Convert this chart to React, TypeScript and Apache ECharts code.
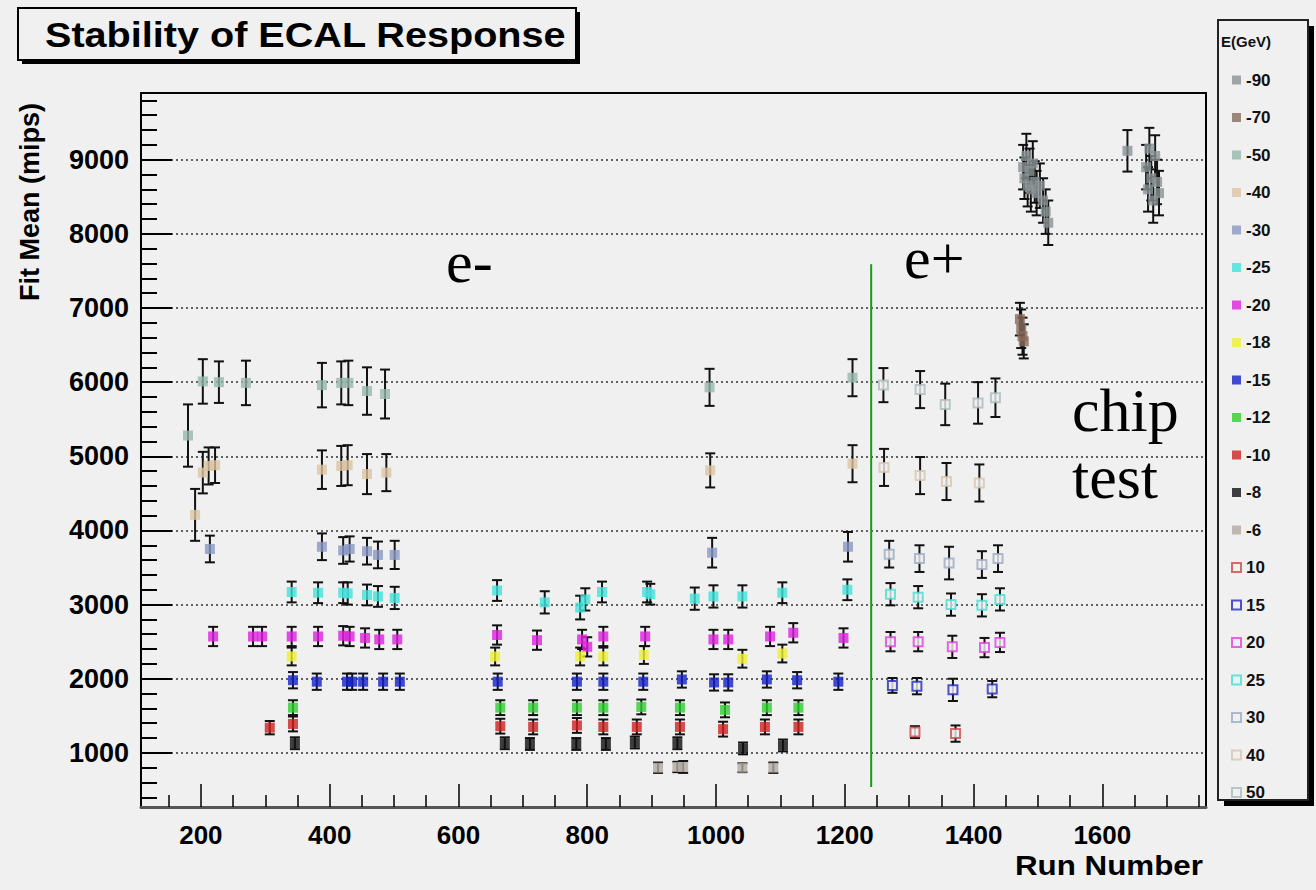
import React, { useEffect, useRef } from "react";
import * as echarts from "echarts";

// [run, fit mean, error]
const eM90 = [
  [1477, 8900, 300], [1479, 8750, 280], [1482, 9050, 300], [1484, 8650, 280], [1487, 8850, 300],
  [1489, 8600, 300], [1492, 8950, 300], [1495, 8700, 280], [1498, 8550, 300], [1503, 8650, 300],
  [1508, 8450, 300], [1512, 8300, 300], [1516, 8150, 300],
  [1639, 9120, 280], [1668, 8900, 300], [1671, 8600, 300], [1673, 9150, 280], [1676, 8750, 300],
  [1679, 8450, 300], [1682, 9050, 280], [1685, 8700, 300], [1688, 8550, 300],
];
const eM70 = [[1472, 6850, 220], [1474, 6720, 260], [1476, 6620, 250], [1478, 6550, 230]];
const eM50 = [
  [180, 5280, 420], [203, 6010, 300], [228, 6000, 280], [270, 5990, 300], [388, 5960, 300],
  [418, 5990, 290], [429, 5990, 300], [458, 5880, 320], [486, 5840, 330], [990, 5930, 250], [1212, 6060, 250],
];
const eM40 = [
  [191, 4210, 350], [203, 4780, 280], [212, 4870, 250], [222, 4880, 240], [388, 4820, 260],
  [418, 4870, 270], [428, 4880, 270], [458, 4760, 270], [488, 4780, 250], [991, 4810, 230], [1212, 4900, 250],
];
const eM30 = [
  [214, 3750, 180], [388, 3780, 180], [421, 3730, 180], [431, 3750, 170], [458, 3720, 180],
  [475, 3670, 180], [501, 3670, 190], [994, 3700, 200], [1205, 3780, 200],
];
const eM25 = [
  [341, 3170, 140], [382, 3160, 140], [421, 3160, 140], [428, 3150, 150], [458, 3130, 140],
  [475, 3110, 140], [501, 3090, 150], [660, 3190, 140], [734, 3030, 150], [789, 2960, 160],
  [797, 3070, 150], [823, 3170, 140], [893, 3170, 140], [898, 3140, 140], [967, 3080, 150],
  [996, 3110, 150], [1041, 3110, 150], [1103, 3160, 140], [1204, 3200, 140],
];
const eM20 = [
  [219, 2570, 130], [281, 2570, 130], [295, 2570, 130], [341, 2570, 130], [382, 2570, 130],
  [421, 2580, 130], [431, 2570, 130], [455, 2550, 130], [477, 2530, 130], [505, 2530, 130],
  [660, 2590, 130], [722, 2520, 130], [792, 2530, 130], [800, 2430, 130], [825, 2570, 130],
  [890, 2570, 130], [996, 2530, 130], [1019, 2530, 130], [1084, 2570, 130], [1120, 2620, 130], [1198, 2550, 130],
];
const eM18 = [[341, 2300, 120], [657, 2300, 120], [789, 2300, 120], [825, 2300, 120], [888, 2320, 120], [1041, 2270, 120], [1103, 2340, 120]];
const eM15 = [
  [343, 1980, 110], [380, 1960, 110], [427, 1960, 110], [435, 1960, 110], [452, 1960, 110],
  [483, 1960, 110], [509, 1960, 110], [661, 1960, 110], [784, 1960, 110], [825, 1960, 110],
  [887, 1960, 110], [947, 1990, 110], [997, 1950, 110], [1019, 1950, 110], [1079, 1990, 110],
  [1126, 1980, 110], [1190, 1960, 110],
];
const eM12 = [[343, 1610, 100], [665, 1610, 100], [716, 1610, 100], [784, 1610, 100], [825, 1610, 100], [884, 1620, 100], [944, 1610, 100], [1014, 1580, 100], [1079, 1610, 100], [1128, 1610, 100]];
const eM10 = [[307, 1340, 90], [343, 1390, 100], [665, 1360, 100], [716, 1350, 100], [784, 1370, 100], [825, 1350, 100], [877, 1350, 100], [944, 1350, 100], [1011, 1320, 100], [1076, 1350, 100], [1128, 1350, 100]];
const eM8 = [[346, 1130, 80], [672, 1130, 80], [711, 1120, 80], [783, 1120, 80], [829, 1120, 80], [874, 1140, 80], [940, 1130, 80], [1042, 1060, 80], [1104, 1100, 80]];
const eM6 = [[910, 800, 70], [940, 810, 70], [949, 810, 80], [1041, 800, 60], [1089, 800, 70]];
const eP10 = [[1309, 1280, 80], [1372, 1260, 110]];
const eP15 = [[1274, 1910, 100], [1312, 1900, 110], [1368, 1850, 150], [1429, 1860, 110]];
const eP20 = [[1271, 2500, 130], [1314, 2500, 130], [1367, 2430, 150], [1417, 2420, 130], [1441, 2490, 130]];
const eP25 = [[1271, 3140, 150], [1314, 3100, 150], [1365, 3000, 150], [1413, 2990, 150], [1441, 3070, 150]];
const eP30 = [[1269, 3680, 180], [1316, 3620, 180], [1362, 3560, 220], [1413, 3540, 180], [1438, 3620, 180]];
const eP40 = [[1261, 4850, 250], [1317, 4740, 250], [1358, 4660, 250], [1409, 4640, 250]];
const eP50 = [[1260, 5960, 230], [1317, 5900, 250], [1356, 5700, 280], [1407, 5720, 280], [1434, 5790, 260]];

const ePlusLine = [[1241, 7590], [1241, 540]];

const yTickLabels = [1000, 2000, 3000, 4000, 5000, 6000, 7000, 8000, 9000];
const xTickLabels = [200, 400, 600, 800, 1000, 1200, 1400, 1600];

const seriesDefs = [
  { name: "-90", data: eM90, color: "#8a9294", hollow: false },
  { name: "-70", data: eM70, color: "#8a6a5c", hollow: false },
  { name: "-50", data: eM50, color: "#96b8ac", hollow: false },
  { name: "-40", data: eM40, color: "#dcc4a2", hollow: false },
  { name: "-30", data: eM30, color: "#8898c6", hollow: false },
  { name: "-25", data: eM25, color: "#40e4dc", hollow: false },
  { name: "-20", data: eM20, color: "#e020e0", hollow: false },
  { name: "-18", data: eM18, color: "#eef030", hollow: false },
  { name: "-15", data: eM15, color: "#1420c8", hollow: false },
  { name: "-12", data: eM12, color: "#30d030", hollow: false },
  { name: "-10", data: eM10, color: "#d02020", hollow: false },
  { name: "-8", data: eM8, color: "#101010", hollow: false },
  { name: "-6", data: eM6, color: "#b2aaa4", hollow: false },
  { name: "10", data: eP10, color: "#d04848", hollow: true },
  { name: "15", data: eP15, color: "#2428c4", hollow: true },
  { name: "20", data: eP20, color: "#e040e0", hollow: true },
  { name: "25", data: eP25, color: "#40e0d4", hollow: true },
  { name: "30", data: eP30, color: "#9aaac4", hollow: true },
  { name: "40", data: eP40, color: "#d8c6ac", hollow: true },
  { name: "50", data: eP50, color: "#aabcbc", hollow: true },
];

const X_MIN = 107;
const X_MAX = 1761;
const Y_MIN = 270;
const Y_MAX = 9900;
const BG = "#f0f0f0";
const FONT = "'Liberation Sans', Arial, sans-serif";
const SERIF = "'Liberation Serif', 'Times New Roman', serif";

const xMinor: number[] = [];
for (let v = 150; v <= 1750; v += 50) if (v % 200 !== 0) xMinor.push(v);
const yMinor: number[] = [];
for (let v = 400; v <= 9800; v += 200) if (v % 1000 !== 0) yMinor.push(v);

export default function App() {
  const ref = useRef<HTMLDivElement>(null);
  useEffect(() => {
    const chart = echarts.init(ref.current!, null, { renderer: "svg" });
    const errData = seriesDefs.flatMap((s) => s.data);
    const plain = (v: number) => String(v);
    const option: any = {
      animation: false,
      backgroundColor: BG,
      grid: { left: 141, right: 110, top: 93, bottom: 83, show: true, borderColor: "#000", borderWidth: 2, backgroundColor: BG },
      xAxis: [
        {
          type: "value", min: X_MIN, max: X_MAX, position: "bottom",
          axisLine: { show: true, onZero: false, lineStyle: { color: "#555", width: 3 } },
          axisTick: { show: true, inside: true, length: 23, customValues: xTickLabels, lineStyle: { color: "#000", width: 1.5 } },
          axisLabel: { show: true, customValues: xTickLabels, formatter: plain, margin: 15, color: "#000", fontFamily: FONT, fontWeight: "bold", fontSize: 26 },
          splitLine: { show: false },
        },
        {
          type: "value", min: X_MIN, max: X_MAX, position: "bottom",
          axisLine: { show: false },
          axisTick: { show: true, inside: true, length: 12, customValues: xMinor, lineStyle: { color: "#000", width: 1.5 } },
          axisLabel: { show: false },
          splitLine: { show: false },
        },
      ],
      yAxis: [
        {
          type: "value", min: Y_MIN, max: Y_MAX, position: "left",
          axisLine: { show: true, onZero: false, lineStyle: { color: "#000", width: 2 } },
          axisTick: { show: true, inside: true, length: 31, customValues: yTickLabels, lineStyle: { color: "#000", width: 2 } },
          axisLabel: { show: true, customValues: yTickLabels, formatter: plain, margin: 12, color: "#000", fontFamily: FONT, fontWeight: "bold", fontSize: 27 },
          splitLine: { show: true, lineStyle: { color: "#333", width: 1.5, type: [2, 3] } },
        },
        {
          type: "value", min: Y_MIN, max: Y_MAX, position: "left",
          axisLine: { show: false },
          axisTick: { show: true, inside: true, length: 16, customValues: yMinor, lineStyle: { color: "#000", width: 2 } },
          axisLabel: { show: false },
          splitLine: { show: false },
        },
      ],
      legend: {
        orient: "vertical",
        left: 1226,
        top: 66,
        itemWidth: 9,
        itemHeight: 9,
        itemGap: 19.5,
        selectedMode: false,
        data: seriesDefs.map((s) => s.name),
        textStyle: { color: "#111", fontFamily: FONT, fontWeight: "bold", fontSize: 17, lineHeight: 18 },
      },
      graphic: [
        { type: "rect", shape: { x: 22, y: 12, width: 558, height: 52 }, style: { fill: "#000" }, z: 10 },
        { type: "rect", shape: { x: 18, y: 8, width: 558, height: 52 }, style: { fill: BG, stroke: "#000", lineWidth: 2 }, z: 11 },
        { type: "text", x: 45, y: 35, scaleX: 1.1, z: 12, style: { text: "Stability of ECAL Response", font: `bold 36px ${FONT}`, fill: "#000", textVerticalAlign: "middle" } },
        { type: "rect", shape: { x: 1224, y: 26, width: 90, height: 780 }, style: { fill: "#000" }, z: -2 },
        { type: "rect", shape: { x: 1218, y: 20, width: 90, height: 780 }, style: { fill: BG, stroke: "#222", lineWidth: 2 }, z: -1 },
        { type: "text", x: 1221, y: 41, style: { text: "E(GeV)", font: `bold 15px ${FONT}`, fill: "#111", textVerticalAlign: "middle" } },
        { type: "text", x: 30, y: 202, rotation: Math.PI / 2, style: { text: "Fit Mean (mips)", font: `bold 27px ${FONT}`, fill: "#000", textAlign: "center", textVerticalAlign: "middle" } },
        { type: "text", x: 1203, y: 865, scaleX: 1.12, style: { text: "Run Number", font: `bold 28px ${FONT}`, fill: "#000", textAlign: "right", textVerticalAlign: "middle" } },
        { type: "text", x: 446, y: 262, style: { text: "e-", font: `60px ${SERIF}`, fill: "#000", textVerticalAlign: "middle" } },
        { type: "text", x: 904, y: 258, style: { text: "e+", font: `60px ${SERIF}`, fill: "#000", textVerticalAlign: "middle" } },
        { type: "text", x: 1072, y: 410, style: { text: "chip", font: `62px ${SERIF}`, fill: "#000", textVerticalAlign: "middle" } },
        { type: "text", x: 1072, y: 477, style: { text: "test", font: `62px ${SERIF}`, fill: "#000", textVerticalAlign: "middle" } },
      ],
      series: [
        {
          type: "custom",
          name: "errors",
          data: errData,
          encode: { x: 0, y: 1 },
          z: 2,
          silent: true,
          renderItem: (_params: any, api: any) => {
            const x = api.value(0);
            const y = api.value(1);
            const e = api.value(2);
            const top = api.coord([x, y + e]);
            const bot = api.coord([x, y - e]);
            const hw = 5;
            const style = { stroke: "#111", lineWidth: 2 };
            return {
              type: "group",
              children: [
                { type: "line", shape: { x1: top[0], y1: top[1], x2: bot[0], y2: bot[1] }, style },
                { type: "line", shape: { x1: top[0] - hw, y1: top[1], x2: top[0] + hw, y2: top[1] }, style },
                { type: "line", shape: { x1: bot[0] - hw, y1: bot[1], x2: bot[0] + hw, y2: bot[1] }, style },
              ],
            };
          },
        },
        {
          type: "line",
          name: "boundary",
          data: ePlusLine,
          symbol: "none",
          z: 1,
          lineStyle: { color: "#1a9a1a", width: 2 },
          silent: true,
        },
        ...seriesDefs.map((s) => ({
          type: "scatter",
          name: s.name,
          data: s.data,
          encode: { x: 0, y: 1 },
          symbol: "rect",
          symbolSize: s.hollow ? 9 : 10,
          z: 3,
          itemStyle: s.hollow
            ? { color: BG, borderColor: s.color, borderWidth: 2 }
            : { color: s.color },
        })),
      ],
    };
    chart.setOption(option);
    return () => chart.dispose();
  }, []);
  return <div ref={ref} style={{ position: "absolute", left: 0, top: 0, width: 1316, height: 890 }} />;
}
